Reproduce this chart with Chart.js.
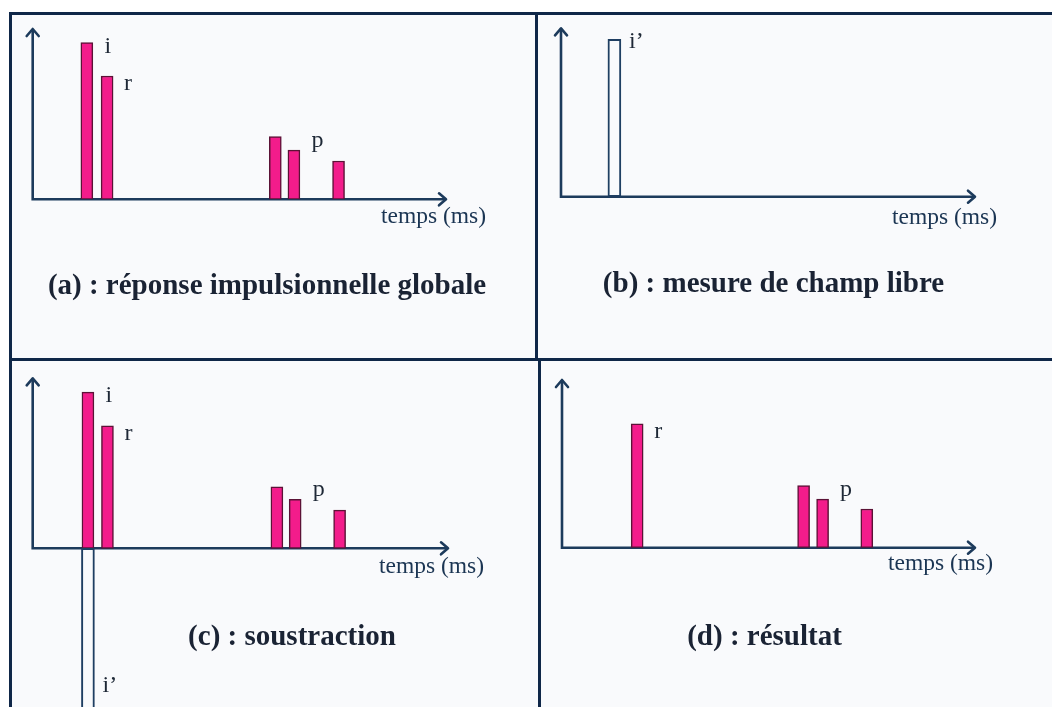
<!DOCTYPE html>
<html><head><meta charset="utf-8">
<script src="https://cdn.jsdelivr.net/npm/chart.js@4"></script>
<style>
html,body{margin:0;padding:0;background:#fff;}
#wrap{position:relative;width:1052px;height:707px;overflow:hidden;background:#fff;}
#wrap canvas{position:absolute;}
.ln{position:absolute;background:#0f2748;z-index:5;}
</style></head><body>
<div id="wrap">
<canvas id="ca" width="527" height="346" style="left:10px;top:13px"></canvas>
<canvas id="cb" width="515" height="346" style="left:537px;top:13px"></canvas>
<canvas id="cc" width="530" height="348" style="left:10px;top:359px"></canvas>
<canvas id="cd" width="512" height="348" style="left:540px;top:359px"></canvas>
<div class="ln" style="left:9px;top:12px;width:1043px;height:3px"></div>
<div class="ln" style="left:9px;top:12px;width:3px;height:695px"></div>
<div class="ln" style="left:535px;top:12px;width:3px;height:348px"></div>
<div class="ln" style="left:538px;top:358px;width:3px;height:349px"></div>
<div class="ln" style="left:9px;top:358px;width:1043px;height:3px"></div>
</div>
<script>
// ---- data ----
const timeAxisLabel = 'temps (ms)';
const panelTitles = ['(a) : réponse impulsionnelle globale', '(b) : mesure de champ libre', '(c) : soustraction', '(d) : résultat'];

// (a) global impulse response
const aTimes  = [13.1, 18.0, 58.7, 63.2, 74.0];
const aValues = [92.0, 72.4, 36.8, 28.9, 22.5];
const aLabels = ['i', 'r', '', 'p', ''];

// (b) free-field measurement
const bTimes  = [12.9];
const bValues = [93.5];
const bLabels = ['i’'];

// (c) subtraction
const cTimes  = [13.3, 18.0, 58.8, 63.2, 73.9];
const cValues = [91.9, 72.1, 36.2, 28.8, 22.5];
const cLabels = ['i', 'r', '', 'p', ''];
const cFreeTimes  = [13.3];
const cFreeValues = [-95];
const cFreeLabels = ['i’'];

// (d) result
const dTimes  = [18.2, 58.5, 63.1, 73.8];
const dValues = [73.8, 37.0, 29.0, 23.1];
const dLabels = ['r', '', 'p', ''];

// ---- styles ----
const PINK = '#f31c8b', PINK_BORDER = '#5b1236', AXIS = '#1d3b5c', NAVY_OUT = '#1f3f62';
const BG = '#f9fafc';
const SERIF = '"Liberation Serif", "DejaVu Serif", serif';
const labelOffsets = { 'i': [21, 10], 'r': [21, 14], 'p': [23.5, -3], 'i’': [22, 9] };

function pts(xs, ys) { return xs.map((x, k) => ({ x: x, y: ys[k] })); }

const diagramPlugin = {
  id: 'diagram',
  beforeDraw(chart) {
    const ctx = chart.ctx;
    ctx.save(); ctx.fillStyle = BG; ctx.fillRect(0, 0, chart.width, chart.height); ctx.restore();
  },
  beforeDatasetsDraw(chart) {
    const ctx = chart.ctx, xs = chart.scales.x, ys = chart.scales.y;
    const x0 = xs.getPixelForValue(0), y0 = ys.getPixelForValue(0);
    const xe = xs.getPixelForValue(xs.max), yt = ys.getPixelForValue(ys.max);
    ctx.save();
    ctx.strokeStyle = AXIS; ctx.lineWidth = 2.6; ctx.lineCap = 'butt'; ctx.lineJoin = 'round';
    ctx.beginPath(); ctx.moveTo(x0, y0); ctx.lineTo(x0, yt); ctx.moveTo(x0 - 1.3, y0); ctx.lineTo(xe, y0); ctx.stroke();
    ctx.lineCap = 'round';
    ctx.beginPath();
    ctx.moveTo(x0 - 6, yt + 7); ctx.lineTo(x0, yt); ctx.lineTo(x0 + 6, yt + 7);
    ctx.moveTo(xe - 7, y0 - 6); ctx.lineTo(xe, y0); ctx.lineTo(xe - 7, y0 + 6);
    ctx.stroke();
    ctx.restore();
  },
  afterDatasetsDraw(chart, args, opts) {
    const ctx = chart.ctx, xs = chart.scales.x, ys = chart.scales.y;
    ctx.save();
    // bar labels
    ctx.fillStyle = '#1e2836'; ctx.font = '24px ' + SERIF; ctx.textAlign = 'center'; ctx.textBaseline = 'alphabetic';
    chart.data.datasets.forEach((ds, di) => {
      const meta = chart.getDatasetMeta(di);
      (ds.pointLabels || []).forEach((lab, k) => {
        if (!lab) return;
        const el = meta.data[k];
        const off = labelOffsets[lab] || [20, 10];
        const neg = ds.data[k].y < 0;
        const ty = neg ? Math.min(el.y, chart.height + 3) - 18 : el.y + off[1];
        ctx.fillText(lab, el.x + off[0], ty);
      });
    });
    // time axis label
    const xe = xs.getPixelForValue(xs.max), y0 = ys.getPixelForValue(0);
    ctx.fillStyle = '#1b3553'; ctx.font = '23.5px ' + SERIF; ctx.textAlign = 'right'; ctx.textBaseline = 'middle';
    ctx.fillText(timeAxisLabel, xe + opts.timeDx, y0 + opts.timeDy);
    // panel title
    ctx.fillStyle = '#1a2334'; ctx.font = 'bold 29px ' + SERIF; ctx.textAlign = 'center';
    ctx.fillText(opts.title, opts.titleX, opts.titleY);
    ctx.restore();
  }
};

function pinkSet(xs, ys, labs) {
  return { data: pts(xs, ys), pointLabels: labs, backgroundColor: PINK, borderColor: PINK_BORDER,
           borderWidth: 1.5, borderSkipped: false, barThickness: 12, grouped: false };
}
function outlineSet(xs, ys, labs) {
  return { data: pts(xs, ys), pointLabels: labs, backgroundColor: BG, borderColor: NAVY_OUT,
           borderWidth: 2, borderSkipped: false, barThickness: 13, grouped: false };
}

function makeChart(id, datasets, yMin, pad, opts) {
  return new Chart(document.getElementById(id), {
    type: 'bar',
    data: { datasets: datasets },
    options: {
      responsive: false, animation: false,
      layout: { padding: pad },
      scales: {
        x: { type: 'linear', min: 0, max: 100, offset: false, display: false, grace: 0 },
        y: { type: 'linear', min: yMin, max: 100, offset: false, display: false, grace: 0 }
      },
      plugins: { legend: { display: false }, tooltip: { enabled: false }, title: { display: false }, diagram: opts }
    },
    plugins: [diagramPlugin]
  });
}

makeChart('ca', [pinkSet(aTimes, aValues, aLabels)], 0,
  { left: 22.7, right: 91, top: 16, bottom: 159.7 },
  { title: panelTitles[0], titleX: 257, titleY: 274, timeDx: 40, timeDy: 18 });
makeChart('cb', [outlineSet(bTimes, bValues, bLabels)], 0,
  { left: 24, right: 77, top: 15.3, bottom: 162.3 },
  { title: panelTitles[1], titleX: 236.5, titleY: 272, timeDx: 22, timeDy: 21 });
makeChart('cc', [outlineSet(cFreeTimes, cFreeValues, cFreeLabels), pinkSet(cTimes, cValues, cLabels)], -93.35,
  { left: 22.7, right: 92, top: 19.3, bottom: 0 },
  { title: panelTitles[2], titleX: 282, titleY: 279, timeDx: 36, timeDy: 19 });
makeChart('cd', [pinkSet(dTimes, dValues, dLabels)], 0,
  { left: 22, right: 77, top: 21, bottom: 159.3 },
  { title: panelTitles[3], titleX: 224.5, titleY: 279, timeDx: 18, timeDy: 16 });
</script>
</body></html>
